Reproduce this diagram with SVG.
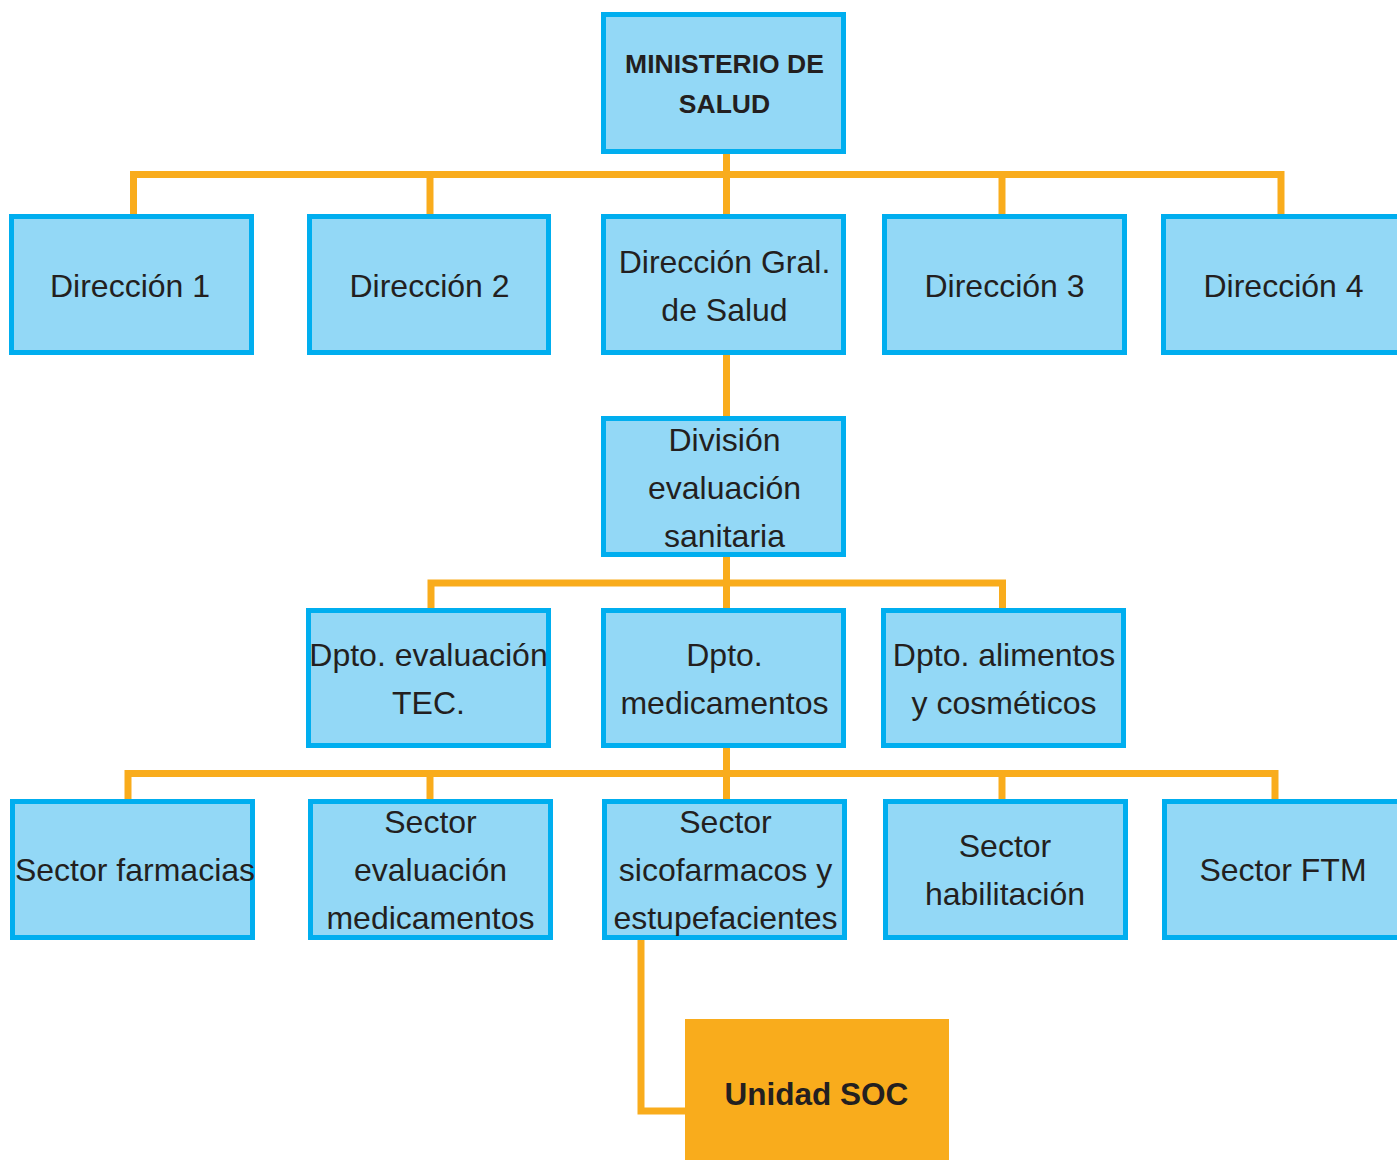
<svg xmlns="http://www.w3.org/2000/svg" width="1397" height="1160" viewBox="0 0 1397 1160">
<style>
.box{fill:#93D8F6;stroke:#00AEEF;stroke-width:5}
.soc{fill:#F9AC1C}
.t{font-family:"Liberation Sans",Arial,sans-serif;font-size:32px;fill:#231F20;text-anchor:middle}
.b{font-family:"Liberation Sans",Arial,sans-serif;font-weight:bold;fill:#231F20;text-anchor:middle}
.c{fill:none;stroke:#F9AC1C;stroke-width:7;stroke-linejoin:miter}
</style>
<rect width="1397" height="1160" fill="#FFFFFF"/>
<g id="connectors">
<path class="c" d="M133.5 214 V174.5 H1281 V214"/>
<path class="c" d="M726.5 154 V214"/>
<path class="c" d="M430 174.5 V214"/>
<path class="c" d="M1002 174.5 V214"/>
<path class="c" d="M726.5 355 V416"/>
<path class="c" d="M726.5 557 V608"/>
<path class="c" d="M431 608 V583 H1002.5 V608"/>
<path class="c" d="M726.5 748 V799"/>
<path class="c" d="M128 799 V773.5 H1275 V799"/>
<path class="c" d="M430 773.5 V799"/>
<path class="c" d="M1002 773.5 V799"/>
<path class="c" d="M641 940 V1111 H686"/>
</g>
<g id="ministerio">
<rect class="box" x="603.5" y="14.5" width="240" height="137"/>
<text class="b" font-size="26.5" x="724.5" y="73">MINISTERIO DE</text>
<text class="b" font-size="26.5" x="724.5" y="113">SALUD</text>
</g>
<g id="direccion1">
<rect class="box" x="11.5" y="216.5" width="240" height="136"/>
<text class="t" x="130" y="297">Dirección 1</text>
</g>
<g id="direccion2">
<rect class="box" x="309.5" y="216.5" width="239" height="136"/>
<text class="t" x="429.5" y="297">Dirección 2</text>
</g>
<g id="direccion-gral">
<rect class="box" x="603.5" y="216.5" width="240" height="136"/>
<text class="t" x="724.5" y="273">Dirección Gral.</text>
<text class="t" x="724.5" y="321">de Salud</text>
</g>
<g id="direccion3">
<rect class="box" x="884.5" y="216.5" width="240" height="136"/>
<text class="t" x="1004.5" y="297">Dirección 3</text>
</g>
<g id="direccion4">
<rect class="box" x="1163.5" y="216.5" width="240" height="136"/>
<text class="t" x="1283.5" y="297">Dirección 4</text>
</g>
<g id="division">
<rect class="box" x="603.5" y="418.5" width="240" height="136"/>
<text class="t" x="724.5" y="451">División</text>
<text class="t" x="724.5" y="499">evaluación</text>
<text class="t" x="724.5" y="547">sanitaria</text>
</g>
<g id="dpto-tec">
<rect class="box" x="308.5" y="610.5" width="240" height="135"/>
<text class="t" x="428.5" y="666">Dpto. evaluación</text>
<text class="t" x="428.5" y="714">TEC.</text>
</g>
<g id="dpto-med">
<rect class="box" x="603.5" y="610.5" width="240" height="135"/>
<text class="t" x="724.5" y="666">Dpto.</text>
<text class="t" x="724.5" y="714">medicamentos</text>
</g>
<g id="dpto-ali">
<rect class="box" x="883.5" y="610.5" width="240" height="135"/>
<text class="t" x="1004" y="666">Dpto. alimentos</text>
<text class="t" x="1004" y="714">y cosméticos</text>
</g>
<g id="sector-farmacias">
<rect class="box" x="12.5" y="801.5" width="240" height="136"/>
<text class="t" x="135" y="881">Sector farmacias</text>
</g>
<g id="sector-evaluacion">
<rect class="box" x="310.5" y="801.5" width="240" height="136"/>
<text class="t" x="430.5" y="833">Sector</text>
<text class="t" x="430.5" y="881">evaluación</text>
<text class="t" x="430.5" y="929">medicamentos</text>
</g>
<g id="sector-sicofarmacos">
<rect class="box" x="604.5" y="801.5" width="240" height="136"/>
<text class="t" x="725.5" y="833">Sector</text>
<text class="t" x="725.5" y="881">sicofarmacos y</text>
<text class="t" x="725.5" y="929">estupefacientes</text>
</g>
<g id="sector-habilitacion">
<rect class="box" x="885.5" y="801.5" width="240" height="136"/>
<text class="t" x="1005" y="857">Sector</text>
<text class="t" x="1005" y="905">habilitación</text>
</g>
<g id="sector-ftm">
<rect class="box" x="1164.5" y="801.5" width="240" height="136"/>
<text class="t" x="1283" y="881">Sector FTM</text>
</g>
<g id="unidad-soc">
<rect class="soc" x="685" y="1019" width="264" height="150"/>
<text class="b" font-size="31.5" x="816.5" y="1105">Unidad SOC</text>
</g>
</svg>
